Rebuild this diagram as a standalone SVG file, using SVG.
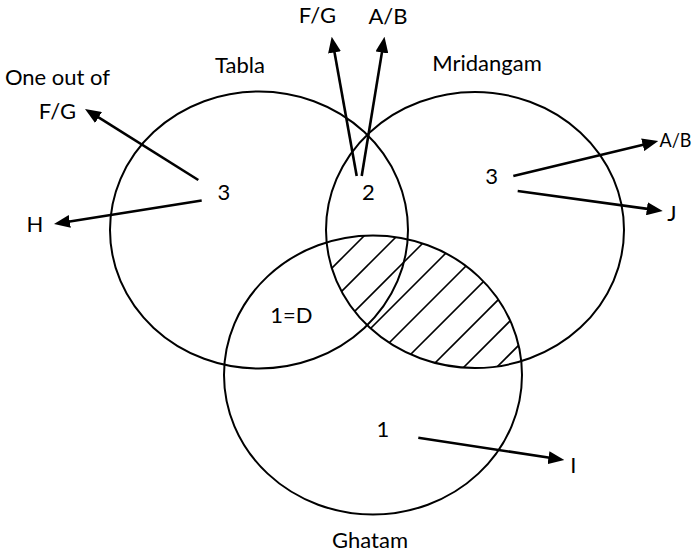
<svg xmlns="http://www.w3.org/2000/svg" width="695" height="554" viewBox="0 0 695 554">
<style>
.set{fill:none;stroke:#000;stroke-width:2}
.hatch{stroke:#000;stroke-width:1.6}
.arr{stroke:#000;stroke-width:2.6;fill:none;marker-end:url(#ah)}
text{font-family:Lato,"Open Sans","Liberation Sans",sans-serif;font-size:22px;fill:#000;text-anchor:middle}
</style>
<defs>
<marker id="ah" markerUnits="userSpaceOnUse" markerWidth="16" markerHeight="13" refX="8" refY="6.5" orient="auto">
<path d="M0,0 L16,6.5 L0,13 Z" fill="#000"/>
</marker>
<clipPath id="clipM"><ellipse cx="475" cy="230" rx="149" ry="138"/></clipPath>
<clipPath id="clipG"><ellipse cx="373" cy="375" rx="149" ry="139.5"/></clipPath>
</defs>
<g id="hatching" clip-path="url(#clipM)">
<g clip-path="url(#clipG)">
<line class="hatch" x1="300" y1="300" x2="540" y2="60"/>
<line class="hatch" x1="300" y1="333" x2="540" y2="93"/>
<line class="hatch" x1="300" y1="366" x2="540" y2="126"/>
<line class="hatch" x1="300" y1="399" x2="540" y2="159"/>
<line class="hatch" x1="300" y1="432" x2="540" y2="192"/>
<line class="hatch" x1="300" y1="465" x2="540" y2="225"/>
<line class="hatch" x1="300" y1="498" x2="540" y2="258"/>
<line class="hatch" x1="300" y1="531" x2="540" y2="291"/>
<line class="hatch" x1="300" y1="564" x2="540" y2="324"/>
</g>
</g>
<g id="tabla">
<ellipse class="set" cx="259" cy="230" rx="149" ry="138.5"/>
<text x="240" y="72.7">Tabla</text>
<text x="224" y="200">3</text>
</g>
<g id="mridangam">
<ellipse class="set" cx="475" cy="230" rx="149" ry="138"/>
<text x="487" y="70.7">Mridangam</text>
<text x="491.7" y="184.3">3</text>
</g>
<g id="ghatam">
<ellipse class="set" cx="373" cy="375" rx="149" ry="139.5"/>
<text x="370" y="548.3">Ghatam</text>
<text x="383" y="436.7">1</text>
</g>
<g id="tabla-mridangam">
<text x="368.5" y="200">2</text>
</g>
<g id="tabla-ghatam">
<text x="291.3" y="322.7">1=D</text>
</g>
<g id="label-oneoutof">
<text x="57.5" y="85">One out of</text>
<text x="57.5" y="119">F/G</text>
</g>
<g id="label-h"><text x="35" y="231.5">H</text></g>
<g id="label-fg-top"><text x="317.5" y="23.3">F/G</text></g>
<g id="label-ab-top"><text x="388" y="24">A/B</text></g>
<g id="label-ab-right"><text x="659.5" y="146.7" style="text-anchor:start;font-size:20px" textLength="32" lengthAdjust="spacingAndGlyphs">A/B</text></g>
<g id="label-j"><text x="672" y="221">J</text></g>
<g id="label-i"><text x="573.3" y="473.3">I</text></g>
<g id="connectors">
<line class="arr" x1="198.3" y1="180" x2="91.8" y2="113.2"/>
<line class="arr" x1="201.7" y1="200.5" x2="61.9" y2="222.7"/>
<line class="arr" x1="356.7" y1="176" x2="333.1" y2="44.6"/>
<line class="arr" x1="361.7" y1="176" x2="383.2" y2="44.6"/>
<line class="arr" x1="513.3" y1="176" x2="650.5" y2="142.9"/>
<line class="arr" x1="517.7" y1="191" x2="654.8" y2="209.9"/>
<line class="arr" x1="418.3" y1="437.7" x2="556.4" y2="458.8"/>
</g>
</svg>
